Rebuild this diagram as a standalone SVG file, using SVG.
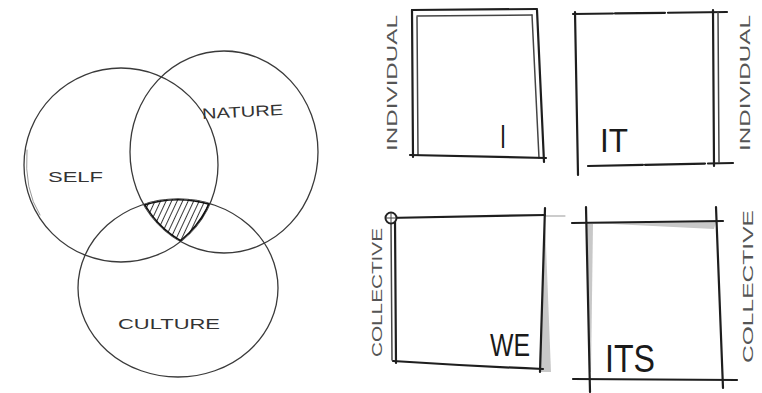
<svg xmlns="http://www.w3.org/2000/svg" width="762" height="393" viewBox="0 0 762 393">
<style>
.bg{fill:#fff}
.circ{fill:none;stroke:#3a3a3a;stroke-width:1.3}
.thick{fill:none;stroke:#111;stroke-width:3.2}
.lbl{font-family:"Liberation Sans",Arial,sans-serif;fill:#333;font-size:15px}
.vlbl{font-family:"Liberation Sans",Arial,sans-serif;fill:#555;font-size:15px}
.big{font-family:"Liberation Sans",Arial,sans-serif;fill:#1a1a1a;font-size:34px}
.ln{fill:none;stroke:#1e1e1e;stroke-width:2.2;stroke-linecap:round}
.ln2{fill:none;stroke:#444;stroke-width:1.5;stroke-linecap:round}
.faint{fill:none;stroke:#999;stroke-width:1;stroke-linecap:round}
.shade{fill:#c8c8c8;stroke:none}
</style>
<defs>
<pattern id="hatch" width="5" height="5" patternUnits="userSpaceOnUse" patternTransform="rotate(25)">
<rect width="5" height="5" fill="#fff"/>
<line x1="0" y1="0" x2="0" y2="5" stroke="#222" stroke-width="1.8"/>
</pattern>
<clipPath id="cSelf"><ellipse cx="121" cy="165" rx="97" ry="97"/></clipPath>
<clipPath id="cNature"><ellipse cx="224" cy="152" rx="94" ry="101"/></clipPath>
<clipPath id="cCulture"><ellipse cx="178" cy="288" rx="100" ry="89"/></clipPath>
</defs>
<rect class="bg" width="762" height="393"/>

<g id="venn">
<g id="self"><ellipse class="circ" cx="121" cy="165" rx="97" ry="97"/><path class="faint" d="M27,150 Q24,190 40,215"/><text class="lbl" x="48" y="182" textLength="55" lengthAdjust="spacingAndGlyphs">SELF</text></g>
<g id="nature"><ellipse class="circ" cx="224" cy="152" rx="94" ry="101"/><text class="lbl" x="202" y="117" textLength="81" lengthAdjust="spacingAndGlyphs" transform="rotate(-3 242 111)">NATURE</text></g>
<g id="culture"><ellipse class="circ" cx="178" cy="288" rx="100" ry="89"/><text class="lbl" x="118" y="329" textLength="102" lengthAdjust="spacingAndGlyphs">CULTURE</text></g>
<g id="center" clip-path="url(#cCulture)"><g clip-path="url(#cNature)"><g clip-path="url(#cSelf)">
<rect x="130" y="190" width="100" height="60" fill="url(#hatch)"/>
<ellipse class="thick" cx="121" cy="165" rx="97" ry="97"/>
<ellipse class="thick" cx="224" cy="152" rx="94" ry="101"/>
<ellipse class="thick" cx="178" cy="288" rx="100" ry="89"/>
</g></g></g>
</g>

<g id="quad-i">
<path class="ln" d="M412,10 L537,9"/>
<path class="ln2" d="M417,16 L532,15"/>
<path class="ln" d="M412,10 L413,157"/>
<path class="ln2" d="M417,17 L418,155"/>
<path class="ln" d="M537,10 L544,162"/>
<path class="ln2" d="M532,15 L539,158"/>
<path class="ln" d="M410,155 L546,158"/>
<text class="big" x="500" y="148" textLength="6" lengthAdjust="spacingAndGlyphs">I</text>
<text class="vlbl" transform="translate(397,151) rotate(-90)" textLength="136" lengthAdjust="spacingAndGlyphs">INDIVIDUAL</text>
</g>

<g id="quad-it">
<path class="ln" d="M575,12 L578,175"/>
<path class="ln" d="M573,14 L727,12" stroke-dasharray="40 2 50 3 70"/>
<path class="ln" d="M713,10 L714,166"/>
<path class="ln2" d="M718,12 L719,162"/>
<path class="ln" d="M588,166 L733,163" stroke-dasharray="55 2 60 3 40"/>
<text class="big" x="600" y="152" textLength="28" lengthAdjust="spacingAndGlyphs">IT</text>
<text class="vlbl" transform="translate(750,151) rotate(-90)" textLength="136" lengthAdjust="spacingAndGlyphs">INDIVIDUAL</text>
</g>

<g id="quad-we">
<polygon class="shade" points="545,220 551,372 539,372"/>
<path class="ln" d="M387,218 L545,215"/>
<path class="faint" d="M545,216 L565,216"/>
<path class="ln" d="M395,220 L396,363"/>
<path class="ln2" d="M391,222 L392,360"/>
<path class="ln" d="M545,208 L540,372"/>
<path class="ln" d="M393,361 Q470,366 543,369"/>
<circle cx="391" cy="218" r="5.5" fill="#fff" stroke="#222" stroke-width="2"/>
<path d="M391,213 L391,223 M386,218 L396,218" stroke="#444" stroke-width="1"/>
<text class="big" x="490" y="356" textLength="40" lengthAdjust="spacingAndGlyphs" style="font-size:31px">WE</text>
<text class="vlbl" transform="translate(382,357) rotate(-90)" textLength="129" lengthAdjust="spacingAndGlyphs">COLLECTIVE</text>
</g>

<g id="quad-its">
<polygon class="shade" points="587,224 593,224 591,372 589,372"/>
<polygon class="shade" points="592,223 716,222 714,229"/>
<path class="ln" d="M572,223 L723,221"/>
<path class="ln" d="M586,207 L590,392"/>
<path class="ln" d="M716,207 L723,388"/>
<path class="ln" d="M573,379 L737,380"/>
<text class="big" x="605" y="372" textLength="50" lengthAdjust="spacingAndGlyphs" style="font-size:39px">ITS</text>
<text class="vlbl" transform="translate(753,363) rotate(-90)" textLength="153" lengthAdjust="spacingAndGlyphs">COLLECTIVE</text>
</g>
</svg>
